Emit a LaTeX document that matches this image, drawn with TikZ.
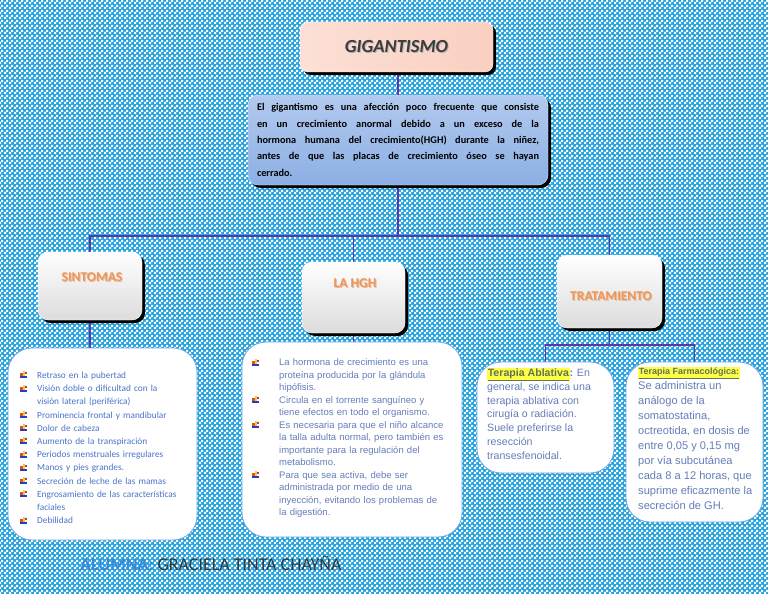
\documentclass[tikz,border=0pt]{standalone}
\usepackage{fontspec}
\setmainfont{Carlito}
\newfontfamily\arialf{Liberation Sans}
\usepackage{enumitem}
\usetikzlibrary{shadows,patterns.meta}
\pgfdeclarelayer{bgl}
\pgfdeclarelayer{conl}
\pgfsetlayers{bgl,conl,main}
\definecolor{bgblue}{RGB}{40,165,225}
\definecolor{purp}{RGB}{100,50,170}
\definecolor{tl}{RGB}{252,224,214}
\definecolor{tm}{RGB}{250,185,160}
\definecolor{tr}{RGB}{250,208,192}
\definecolor{titlec}{RGB}{60,60,60}
\definecolor{dtop}{RGB}{178,202,238}
\definecolor{dbot}{RGB}{140,175,228}
\definecolor{boxgrey}{RGB}{220,220,220}
\definecolor{labc}{RGB}{238,150,85}
\definecolor{labs}{RGB}{200,120,70}
\definecolor{lboxb}{RGB}{110,165,225}
\definecolor{symc}{RGB}{75,115,200}
\definecolor{argc}{RGB}{100,125,185}
\definecolor{hl}{RGB}{255,255,70}
\definecolor{hlt}{RGB}{95,115,85}
\definecolor{alc}{RGB}{60,135,215}
\definecolor{namec}{RGB}{55,55,55}
\definecolor{icr}{RGB}{220,80,40}
\definecolor{icb}{RGB}{40,60,190}
\definecolor{icy}{RGB}{250,200,40}
\definecolor{icp}{RGB}{150,60,160}
\tikzdeclarepattern{
  name=bgchk,
  type=uncolored,
  bottom left={(0pt,0pt)},
  top right={(5pt,5pt)},
  tile size={(5pt,5pt)},
  code={\fill (0pt,0pt) rectangle (2.5pt,2.5pt); \fill (2.5pt,2.5pt) rectangle (5pt,5pt);}
}
\newcommand{\shd}[3]{\makebox[0pt][l]{\hspace*{1pt}\raisebox{-1pt}{\textcolor{#2}{#3}}}\textcolor{#1}{#3}}
\newcommand{\bic}{{\setlength{\unitlength}{1pt}\begin{picture}(7,7)
\put(0,0){\textcolor{icb}{\rule{7pt}{2pt}}}
\put(0,2){\textcolor{icr}{\rule{3pt}{3pt}}}
\put(3,2){\textcolor{icy}{\rule{2pt}{5pt}}}
\put(5,4){\textcolor{icp}{\rule{2pt}{2pt}}}
\end{picture}}}
\tikzset{
  conn/.style={draw=purp, line width=1.6pt},
  shad/.style={drop shadow={shadow xshift=3pt, shadow yshift=-3pt, fill=black, opacity=1}},
  tbox/.style={rounded corners=8pt, left color=tl, middle color=tm, right color=tr, draw=white, line width=0.4pt, shad},
  dbox/.style={rounded corners=10pt, top color=dtop, bottom color=dbot, draw=white!60!dtop, line width=0.4pt, shad},
  gbox/.style={rounded corners=10pt, top color=white, bottom color=boxgrey, draw=white, line width=0.4pt, shad},
  lbox/.style={rounded corners=24pt, fill=white, draw=lboxb, line width=0.8pt},
  lab/.style={font=\bfseries\fontsize{13.5}{15}\selectfont, inner sep=0pt},
  ltext/.style={anchor=north west, inner sep=0pt},
}
\begin{document}
\begin{tikzpicture}[x=1pt,y=-1pt]
\useasboundingbox (0,0) rectangle (768,594);
\begin{pgfonlayer}{bgl}
\fill[bgblue] (0,0) rectangle (768,594);
\fill[pattern=bgchk, pattern color=white] (0,0) rectangle (768,594);
\end{pgfonlayer}

\coordinate (bus) at (398,236);
\coordinate (fork) at (609.5,345);

\node[tbox, minimum width=193pt, minimum height=50pt, font=\bfseries\itshape\fontsize{18.5}{20}\selectfont] (title) at (396.5,47) {\shd{titlec}{gray!60}{GIGANTISMO}};

\node[dbox, text width=282pt, minimum height=90pt, inner xsep=9pt, align=justify, font=\bfseries\fontsize{10.3}{16.3}\selectfont] (def) at (398,140) {El gigantismo es una afección poco frecuente que consiste\linebreak en un crecimiento anormal debido a un exceso de la\linebreak hormona humana del crecimiento(HGH) durante la niñez,\linebreak antes de que las placas de crecimiento óseo se hayan\linebreak cerrado.};

\node[gbox, minimum width=104pt, minimum height=68pt] (sint) at (90,286) {};
\node[gbox, minimum width=103pt, minimum height=71pt] (hgh) at (353.5,297.5) {};
\node[gbox, minimum width=105pt, minimum height=73pt] (trat) at (609.5,291.5) {};

\node[lab] (sintl) at (92,278) {\shd{labc}{labs!50}{SINTOMAS}};
\node[lab] (hghl) at (355,284) {\shd{labc}{labs!50}{LA HGH}};
\node[lab] (tratl) at (611,297) {\shd{labc}{labs!50}{TRATAMIENTO}};

\node[lbox, minimum width=189pt, minimum height=192pt] (slist) at (102.5,444) {};
\node[lbox, minimum width=220pt, minimum height=195pt] (hlist) at (352,439.5) {};
\node[lbox, minimum width=137pt, minimum height=111pt] (abl) at (545.5,417.5) {};
\node[lbox, minimum width=137pt, minimum height=160pt] (farm) at (694.5,442) {};

\begin{pgfonlayer}{conl}
\draw[conn] (def.north) -- (def.north |- title.south);
\draw[conn] (def.south) -- (bus);
\draw[conn] (sint.north) |- (bus);
\draw[conn] (trat.north) |- (bus);
\draw[conn] (hgh.north) -- (hgh.north |- bus);
\draw[conn] (sint.south) -- (slist.north -| sint.south);
\draw[conn] (hgh.south) -- (hgh.south |- hlist.north);
\draw[conn] (trat.south) -- (fork);
\draw[conn] (abl.north) |- (fork) -| (farm.north);
\end{pgfonlayer}

\node[ltext, text width=175pt, font=\fontsize{9.3}{13.2}\selectfont, text=symc] (slistt) at (20,365) {%
\begin{itemize}[label=\bic, leftmargin=17pt, labelsep=10pt, labelwidth=7pt, itemindent=0pt, nosep]
\item Retraso en la pubertad
\item Visión doble o dificultad con la\newline visión lateral (periférica)
\item Prominencia frontal y mandibular
\item Dolor de cabeza
\item Aumento de la transpiración
\item Periodos menstruales irregulares
\item Manos y pies grandes.
\item Secreción de leche de las mamas
\item Engrosamiento de las características\newline faciales
\item Debilidad
\end{itemize}};

\node[ltext, text width=205pt, font=\arialf\fontsize{9.5}{12.5}\selectfont, text=argc] (hlistt) at (252,353) {%
\begin{itemize}[label=\bic, leftmargin=27pt, labelsep=20pt, labelwidth=7pt, itemindent=0pt, nosep]
\item La hormona de crecimiento es una\newline proteína producida por la glándula\newline hipófisis.
\item Circula en el torrente sanguíneo y\newline tiene efectos en todo el organismo.
\item Es necesaria para que el niño alcance\newline la talla adulta normal, pero también es\newline importante para la regulación del\newline metabolismo.
\item Para que sea activa, debe ser\newline administrada por medio de una\newline inyección, evitando los problemas de\newline la digestión.
\end{itemize}};

\node[ltext, align=left, font=\arialf\fontsize{10.6}{13.8}\selectfont, text=argc] (ablt) at (487,368) {{\setlength{\fboxsep}{0.6pt}\colorbox{hl}{\textcolor{hlt}{\textbf{\underline{Terapia Ablativa}}}}}\textbf{:} En\\general, se indica una\\terapia ablativa con\\cirugía o radiación.\\Suele preferirse la\\resección\\transesfenoidal.};

\node[ltext, align=left, font=\arialf\fontsize{11.1}{15}\selectfont, text=argc] (farmt) at (638,367) {{\setlength{\fboxsep}{0.6pt}\colorbox{hl}{\fontsize{9}{10}\selectfont\textcolor{hlt}{\textbf{\underline{Terapia Farmacológica:}}}}}\\Se administra un\\análogo de la\\somatostatina,\\octreotida, en dosis de\\entre 0,05 y 0,15 mg\\por vía subcutánea\\cada 8 a 12 horas, que\\suprime eficazmente la\\secreción de GH.};

\node[anchor=west, inner sep=0pt, font=\fontsize{18}{20}\selectfont] (alumna) at (80,563) {\textcolor{alc}{\textbf{ALUMNA:}} \textcolor{namec}{GRACIELA TINTA CHAYÑA}};
\end{tikzpicture}
\end{document}
